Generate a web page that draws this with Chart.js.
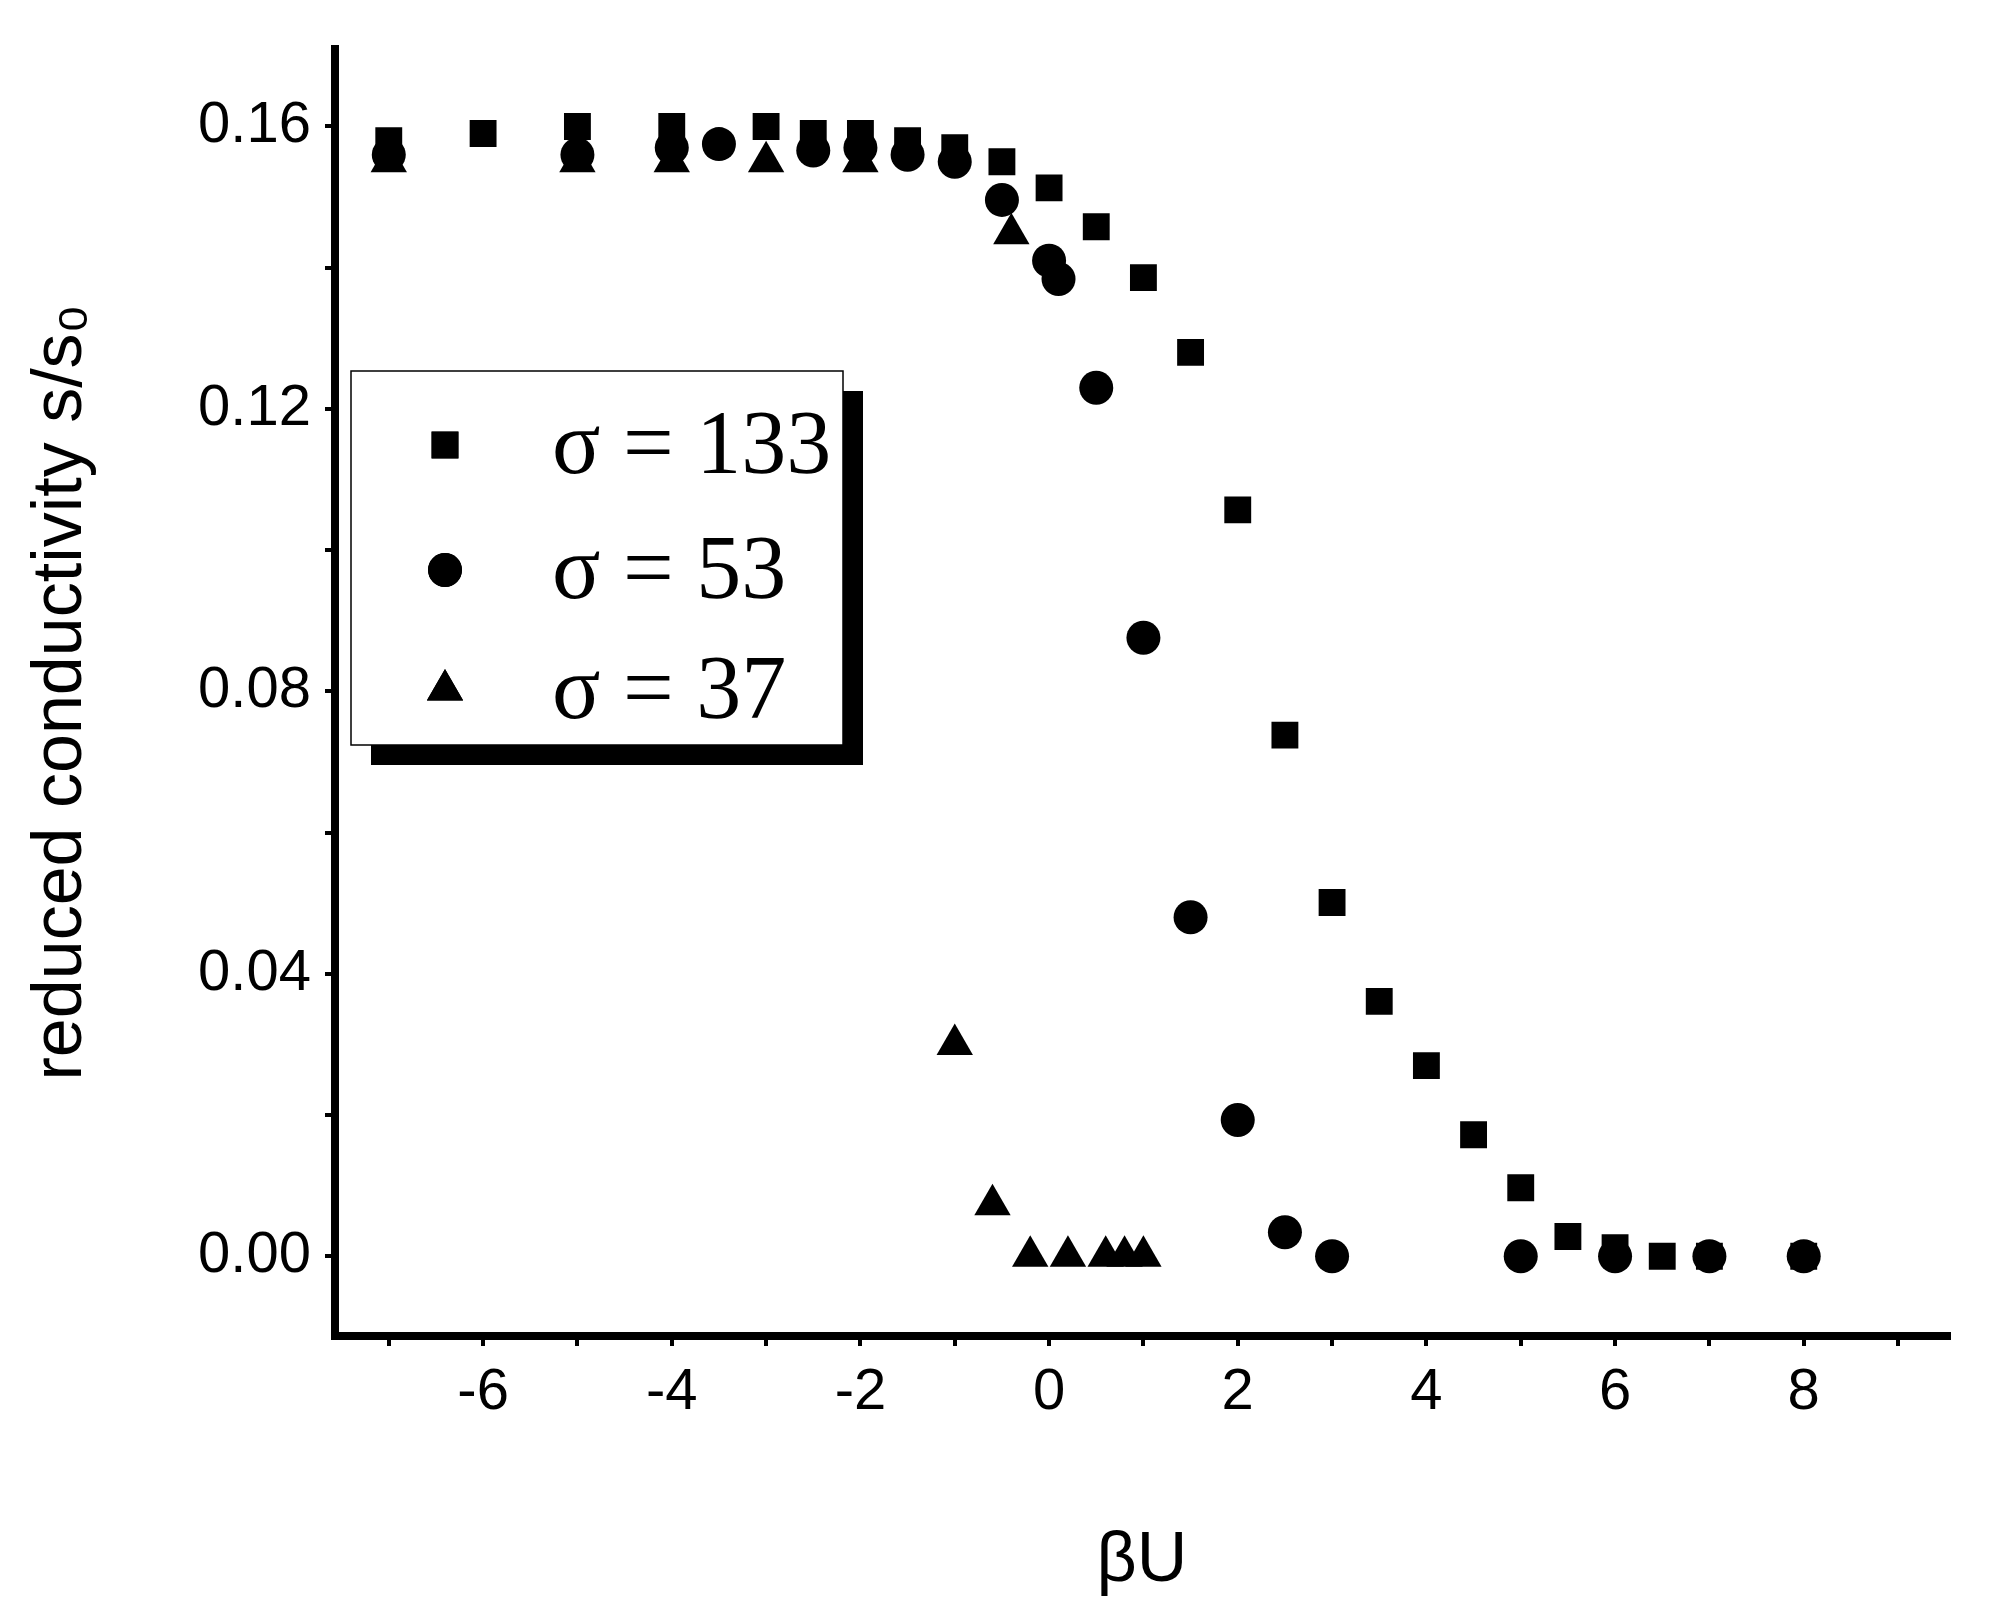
<!DOCTYPE html>
<html>
<head>
<meta charset="utf-8">
<script src="https://cdn.jsdelivr.net/npm/chart.js@4.4.1/dist/chart.umd.min.js"></script>
<style>
  html, body { margin: 0; padding: 0; background: #fff; }
  canvas { display: block; }
</style>
</head>
<body>
<canvas id="chart" width="1993" height="1608"></canvas>
<script>
// values
var xSquares = [-7, -6, -5, -4, -3, -2.5, -2, -1.5, -1, -0.5, 0, 0.5, 1, 1.5, 2, 2.5, 3, 3.5, 4, 4.5, 5, 5.5, 6, 6.5, 7, 8];
var ySquares = [0.158, 0.159, 0.160, 0.160, 0.160, 0.159, 0.159, 0.158, 0.157, 0.155, 0.1513, 0.1458, 0.1386, 0.128, 0.1057, 0.0738, 0.0501, 0.0361, 0.027, 0.0172, 0.0097, 0.0028, 0.0012, 0, 0, 0];

var xCircles = [-7, -5, -4, -3.5, -2.5, -2, -1.5, -1, -0.5, 0, 0.1, 0.5, 1, 1.5, 2, 2.5, 3, 5, 6, 7, 8];
var yCircles = [0.156, 0.156, 0.157, 0.1575, 0.1566, 0.157, 0.156, 0.155, 0.1496, 0.141, 0.1384, 0.123, 0.0876, 0.048, 0.0193, 0.0034, 0, 0, 0, 0, 0];

var xTriangles = [-7, -5, -4, -3, -2, -1, -0.6, -0.4, -0.2, 0.2, 0.6, 0.8, 1.0];
var yTriangles = [0.155, 0.155, 0.155, 0.155, 0.155, 0.030, 0.0073, 0.1448, 0, 0, 0, 0, 0];

var seriesLabels = ["σ = 133", "σ = 53", "σ = 37"];
var xTickValues = [-7, -6, -5, -4, -3, -2, -1, 0, 1, 2, 3, 4, 5, 6, 7, 8, 9];
var yTickValues = [0, 0.02, 0.04, 0.06, 0.08, 0.10, 0.12, 0.14, 0.16];

function pts(xs, ys) {
    return xs.map(function (x, i) { return {x: x, y: ys[i]}; });
}

var styles = [
    {pointStyle: 'rect', pointRadius: 19},
    {pointStyle: 'circle', pointRadius: 17},
    {pointStyle: 'triangle', pointRadius: 21}
];

var legendBox = {
    id: 'legendBox',
    afterDraw: function (chart) {
        var ctx = chart.ctx;
        var x = 351, y = 371, w = 492, h = 374;
        ctx.save();
        ctx.fillStyle = '#000';
        ctx.fillRect(x + 20, y + 20, w, h);
        ctx.fillStyle = '#fff';
        ctx.fillRect(x, y, w, h);
        ctx.strokeStyle = '#000';
        ctx.lineWidth = 1.5;
        ctx.strokeRect(x, y, w, h);
        var rows = [445, 570, 690];
        ctx.font = '90px "Liberation Serif"';
        ctx.textBaseline = 'middle';
        chart.data.datasets.forEach(function (ds, i) {
            ctx.fillStyle = '#000';
            Chart.helpers.drawPoint(ctx, {pointStyle: ds.pointStyle, radius: ds.pointRadius, rotation: 0, borderWidth: 0}, 445, rows[i]);
            ctx.fill();
            ctx.fillText(ds.label, 552, rows[i] + 4);
        });
        ctx.restore();
    }
};

new Chart('chart', {
    type: 'scatter',
    data: {
        datasets: [0, 1, 2].map(function (i) {
            var xs = [xSquares, xCircles, xTriangles][i];
            var ys = [ySquares, yCircles, yTriangles][i];
            return {
                label: seriesLabels[i],
                data: pts(xs, ys),
                pointStyle: styles[i].pointStyle,
                pointRadius: styles[i].pointRadius,
                backgroundColor: '#000',
                borderColor: '#000',
                borderWidth: 0
            };
        })
    },
    options: {
        responsive: false,
        animation: false,
        layout: {padding: {top: 9, right: 44, left: 0, bottom: 0}},
        plugins: {legend: {display: false}, tooltip: {enabled: false}},
        scales: {
            x: {
                type: 'linear',
                min: -7.57,
                max: 9.54,
                afterBuildTicks: function (s) { s.ticks = xTickValues.map(function (v) { return {value: v}; }); },
                afterFit: function (s) { s.height = 272; },
                border: {color: '#000', width: 8},
                grid: {drawOnChartArea: false, color: '#000', lineWidth: 4, tickLength: 10},
                ticks: {
                    color: '#000',
                    font: {family: 'Liberation Sans', size: 58},
                    padding: 12,
                    maxRotation: 0,
                    autoSkip: false,
                    callback: function (v) { return v % 2 === 0 && v <= 8 ? String(v) : ''; }
                },
                title: {display: true, text: 'βU', color: '#000', font: {family: 'Liberation Sans', size: 70}, padding: {top: 30}}
            },
            y: {
                type: 'linear',
                min: -0.0113,
                max: 0.171,
                afterBuildTicks: function (s) { s.ticks = yTickValues.map(function (v) { return {value: v}; }); },
                afterFit: function (s) { s.width = 335; },
                border: {color: '#000', width: 8},
                grid: {drawOnChartArea: false, color: '#000', lineWidth: 4, tickLength: 10},
                ticks: {
                    color: '#000',
                    font: {family: 'Liberation Sans', size: 58},
                    padding: 14,
                    autoSkip: false,
                    callback: function (v) {
                        var k = Math.round(v * 100);
                        return k % 4 === 0 ? v.toFixed(2) : '';
                    }
                },
                title: {display: true, text: 'reduced conductivity s/s₀', color: '#000', font: {family: 'Liberation Sans', size: 70}, padding: {top: 20, bottom: 10}}
            }
        }
    },
    plugins: [legendBox]
});
</script>
</body>
</html>
